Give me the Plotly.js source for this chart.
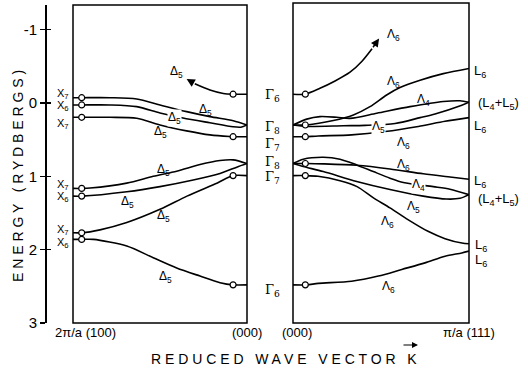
<!DOCTYPE html>
<html><head><meta charset="utf-8">
<script src="https://cdn.plot.ly/plotly-3.0.1.min.js"></script>
<style>html,body{margin:0;padding:0;background:#fff}#chart{width:528px;height:373px}</style>
</head><body><div id="chart"></div>
<script>
// ---- Left panel: X point (k=0, 2π/a(100)) -> Γ (k=1, (000)) ----
const kL1=[0,0.05,0.213,0.366,0.5,0.653,0.787,0.921,1];
const eL1=[-0.072,-0.072,-0.072,-0.054,0.027,0.118,0.186,0.241,0.30];
const kL2=[0,0.05,0.213,0.366,0.5,0.632,0.787,0.92,0.965,1];
const eL2=[0.027,0.027,0.027,0.05,0.136,0.204,0.27,0.325,0.33,0.30];
const kL3=[0,0.05,0.213,0.366,0.5,0.653,0.787,0.9,0.92,1];
const eL3=[0.195,0.195,0.195,0.209,0.30,0.38,0.435,0.458,0.46,0.46];
const kL4=[0,0.05,0.098,0.309,0.461,0.596,0.73,0.845,0.92,1];
const eL4=[1.165,1.165,1.16,1.093,1.0,0.93,0.84,0.785,0.776,0.825];
const kL5=[0,0.05,0.309,0.5,0.691,0.845,0.941,1];
const eL5=[1.27,1.27,1.21,1.14,1.05,0.96,0.875,0.825];
const kL6=[0,0.05,0.155,0.309,0.5,0.655,0.83,0.92,1];
const eL6=[1.77,1.77,1.73,1.63,1.45,1.27,1.09,0.99,0.99];
const kL7=[0,0.05,0.117,0.309,0.461,0.596,0.73,0.845,0.92,1];
const eL7=[1.86,1.86,1.86,1.95,2.11,2.25,2.36,2.45,2.48,2.48];
const kL8=[1,0.92,0.864,0.787,0.70];          // Γ6 band leaving the frame (arrow)
const eL8=[-0.12,-0.12,-0.13,-0.177,-0.262];
const kTipL=0.653, eTipL=-0.327;

// ---- Right panel: Γ (k=0, (000)) -> L (k=1, π/a(111)) ----
const kR1=[0,0.068,0.153,0.239,0.324,0.392,0.449];
const eR1=[-0.12,-0.12,-0.20,-0.30,-0.42,-0.57,-0.74];
const kTipR=0.489, eTipR=-0.88;
const kR2=[0,0.078,0.229,0.343,0.4375,0.532,0.608,0.722,0.854,1];
const eR2=[0.30,0.30,0.24,0.163,0.05,-0.109,-0.21,-0.31,-0.40,-0.47];
const kR3=[0,0.078,0.153,0.249,0.324,0.476,0.665,0.854,0.949,1];
const eR3=[0.30,0.22,0.186,0.195,0.21,0.14,0.05,-0.02,-0.03,-0.01];
const kR4=[0,0.078,0.286,0.409,0.58,0.722,0.807,0.959,1];
const eR4=[0.30,0.32,0.31,0.305,0.28,0.2,0.15,0.03,-0.01];
const kR5=[0,0.068,0.144,0.333,0.523,0.712,0.864,1];
const eR5=[0.46,0.46,0.45,0.435,0.39,0.32,0.25,0.2];
const kR6=[0,0.058,0.172,0.267,0.362,0.456,0.551,0.627,0.797,0.892,1];
const eR6=[0.825,0.766,0.74,0.766,0.844,0.935,1.025,1.084,1.14,1.175,1.25];
const kR7=[0,0.058,0.172,0.362,0.551,0.74,0.873,0.949,1];
const eR7=[0.825,0.866,0.935,1.07,1.18,1.27,1.31,1.30,1.25];
const kR8=[0,0.078,0.172,0.362,0.551,0.74,0.892,1];
const eR8=[0.825,0.825,0.83,0.85,0.90,0.966,1.01,1.04];
const kR9=[0,0.068,0.142,0.267,0.364,0.455,0.551,0.653,0.767,0.864,0.96,1];
const eR9=[0.99,0.99,1.0,1.06,1.14,1.29,1.43,1.59,1.75,1.85,1.91,1.92];
const kR10=[0,0.078,0.144,0.333,0.485,0.618,0.75,0.864,0.959,1];
const eR10=[2.48,2.48,2.46,2.43,2.36,2.27,2.18,2.09,2.045,2.02];

// symmetry-point energies marked with small circles
const xPointEnergies=[-0.072,0.027,0.195,1.165,1.27,1.77,1.86];
const gammaLeftMarks=[-0.12,0.46,0.99,2.48];
const gammaRightMarks=[-0.12,0.30,0.46,0.825,0.99,2.48];

const yTicks=[-1,0,1,2,3];
const yTickText=['-1','0','1','2','3'];

const FONT='Liberation Sans, Arial, sans-serif';
const lineStyle={color:'#000',width:1.6,shape:'spline',smoothing:0.8};

const leftBands=[[kL1,eL1],[kL2,eL2],[kL3,eL3],[kL4,eL4],[kL5,eL5],[kL6,eL6],[kL7,eL7],[kL8,eL8]];
const rightBands=[[kR1,eR1],[kR2,eR2],[kR3,eR3],[kR4,eR4],[kR5,eR5],[kR6,eR6],[kR7,eR7],[kR8,eR8],[kR9,eR9],[kR10,eR10]];

const traces=[];
leftBands.forEach(b=>traces.push({x:b[0],y:b[1],xaxis:'x',yaxis:'y',mode:'lines',line:lineStyle,hoverinfo:'skip',showlegend:false}));
rightBands.forEach(b=>traces.push({x:b[0],y:b[1],xaxis:'x2',yaxis:'y',mode:'lines',line:lineStyle,hoverinfo:'skip',showlegend:false}));
const mk={symbol:'circle',size:6,color:'#fff',line:{color:'#000',width:1.2}};
traces.push({x:xPointEnergies.map(()=>0.05).concat(gammaLeftMarks.map(()=>0.92)),
  y:xPointEnergies.concat(gammaLeftMarks),xaxis:'x',yaxis:'y',mode:'markers',marker:mk,showlegend:false,cliponaxis:false});
traces.push({x:gammaRightMarks.map(()=>0.07),y:gammaRightMarks,xaxis:'x2',yaxis:'y',mode:'markers',marker:mk,showlegend:false,cliponaxis:false});
// invisible trace to activate the inside-tick overlay axis
traces.push({x:[0],y:[0],xaxis:'x',yaxis:'y2',mode:'markers',marker:{opacity:0},hoverinfo:'skip',showlegend:false});

// layout geometry (pixel helpers for text placement)
const W=528,H=373,ML=45,MR=59,MT=5,MB=50;
const PW=W-ML-MR, PH=H-MT-MB;
const px=x=>(x-ML)/PW, py=y=>(H-MB-y)/PH;

const ann=[];
function lab(text,x,y,size,opt){ann.push(Object.assign({text:text,xref:'paper',yref:'paper',x:px(x),y:py(y),
  xanchor:'center',yanchor:'middle',showarrow:false,font:{family:FONT,size:size||12,color:'#000'}},opt||{}));}
const sub=(a,b)=>a+'<sub>'+b+'</sub>';

// X labels
[[94,'7'],[106,'6'],[124,'7'],[185,'7'],[197,'6'],[230,'7'],[243,'6']].forEach(p=>lab(sub('X',p[1]),63,p[0],11));
// Γ labels
[[95,'6'],[127,'8'],[144,'7'],[162,'8'],[177,'7'],[290,'6']].forEach(p=>lab(sub('Γ',p[1]),272,p[0],13,{font:{family:'DejaVu Serif, serif',size:13,color:'#000'}}));
// Δ5 labels
[[176,72],[205,110],[174,118,true],[160,132],[163,170],[127,202],[163,216],[165,277]].forEach(p=>lab(sub('Δ','5'),p[0],p[1],12,p[2]?{bgcolor:'#fff',borderpad:0}:{}));
// Λ labels
[[393,35,'6'],[393,82,'6'],[423,100,'4'],[378,127,'5',true],[403,143,'6'],[403,165,'6'],[418,185,'4',true],[413,207,'5'],[387,222,'6'],[388,287,'6']]
  .forEach(p=>lab(sub('Λ',p[2]),p[0],p[1],12,p[3]?{bgcolor:'#fff',borderpad:0}:{}));
// L labels
lab(sub('L','6'),480,72,13);
lab('('+sub('L','4')+'+'+sub('L','5')+')',499,103,13);
lab(sub('L','6'),480,126,13);
lab(sub('L','6'),480,181,13);
lab('('+sub('L','4')+'+'+sub('L','5')+')',499,199,13);
lab(sub('L','6'),481,245,13);
lab(sub('L','6'),481,260,13);
// k-point labels
lab('2π/a (100)',85,332,13);
lab('(000)',247,332,13);
lab('(000)',297,332,13);
lab('π/a (111)',469,332,13);
// axis titles
lab('R E D U C E D   W A V E   V E C T O R   K',284,359,14);
ann.push({xref:'paper',yref:'paper',x:px(418),y:py(345),ax:-16,ay:0,showarrow:true,arrowhead:2,arrowsize:1,arrowwidth:1.2,arrowcolor:'#000',text:''});
lab('E N E R G Y   ( R Y D B E R G S )',18,176,14,{textangle:-90});
// arrowheads of the bands leaving the frame
ann.push({xref:'x',yref:'y',axref:'x',ayref:'y',x:kTipL,y:eTipL,ax:kL8[kL8.length-1],ay:eL8[eL8.length-1],showarrow:true,arrowhead:2,arrowsize:1.1,arrowwidth:1.5,arrowcolor:'#000',text:''});
ann.push({xref:'x2',yref:'y',axref:'x2',ayref:'y',x:kTipR,y:eTipR,ax:kR1[kR1.length-1],ay:eR1[eR1.length-1],showarrow:true,arrowhead:2,arrowsize:1.1,arrowwidth:1.5,arrowcolor:'#000',text:''});

const axX={range:[0,1],showgrid:false,zeroline:false,showline:false,showticklabels:false,ticks:'',fixedrange:true};
const layout={
  width:W,height:H,margin:{l:ML,r:MR,t:MT,b:MB},paper_bgcolor:'#fff',plot_bgcolor:'rgba(0,0,0,0)',
  showlegend:false,font:{family:FONT,color:'#000'},
  xaxis:Object.assign({domain:[px(73),px(247)],anchor:'y'},axX),
  xaxis2:Object.assign({domain:[px(293),px(469)],anchor:'y'},axX),
  yaxis:{range:[3,-1.336],anchor:'free',position:0,showline:true,linecolor:'#000',linewidth:1.5,showgrid:false,zeroline:false,
    ticks:'outside',ticklen:5,tickwidth:1.5,tickcolor:'#000',tickvals:yTicks,ticktext:yTickText,
    tickfont:{family:FONT,size:15,color:'#000'},fixedrange:true},
  yaxis2:{range:[3,-1.336],overlaying:'y',anchor:'free',position:0,showline:false,showgrid:false,zeroline:false,
    ticks:'inside',ticklen:5,tickwidth:1.5,tickcolor:'#000',tickvals:yTicks,showticklabels:false,fixedrange:true},
  shapes:[
    {type:'rect',xref:'x domain',yref:'y domain',x0:0,x1:1,y0:0,y1:1,line:{color:'#000',width:1.5}},
    {type:'rect',xref:'x2 domain',yref:'y domain',x0:0,x1:1,y0:0,y1:1.006,line:{color:'#000',width:1.5}}
  ],
  annotations:ann
};
Plotly.newPlot('chart',traces,layout,{staticPlot:true,displayModeBar:false});
</script></body></html>
